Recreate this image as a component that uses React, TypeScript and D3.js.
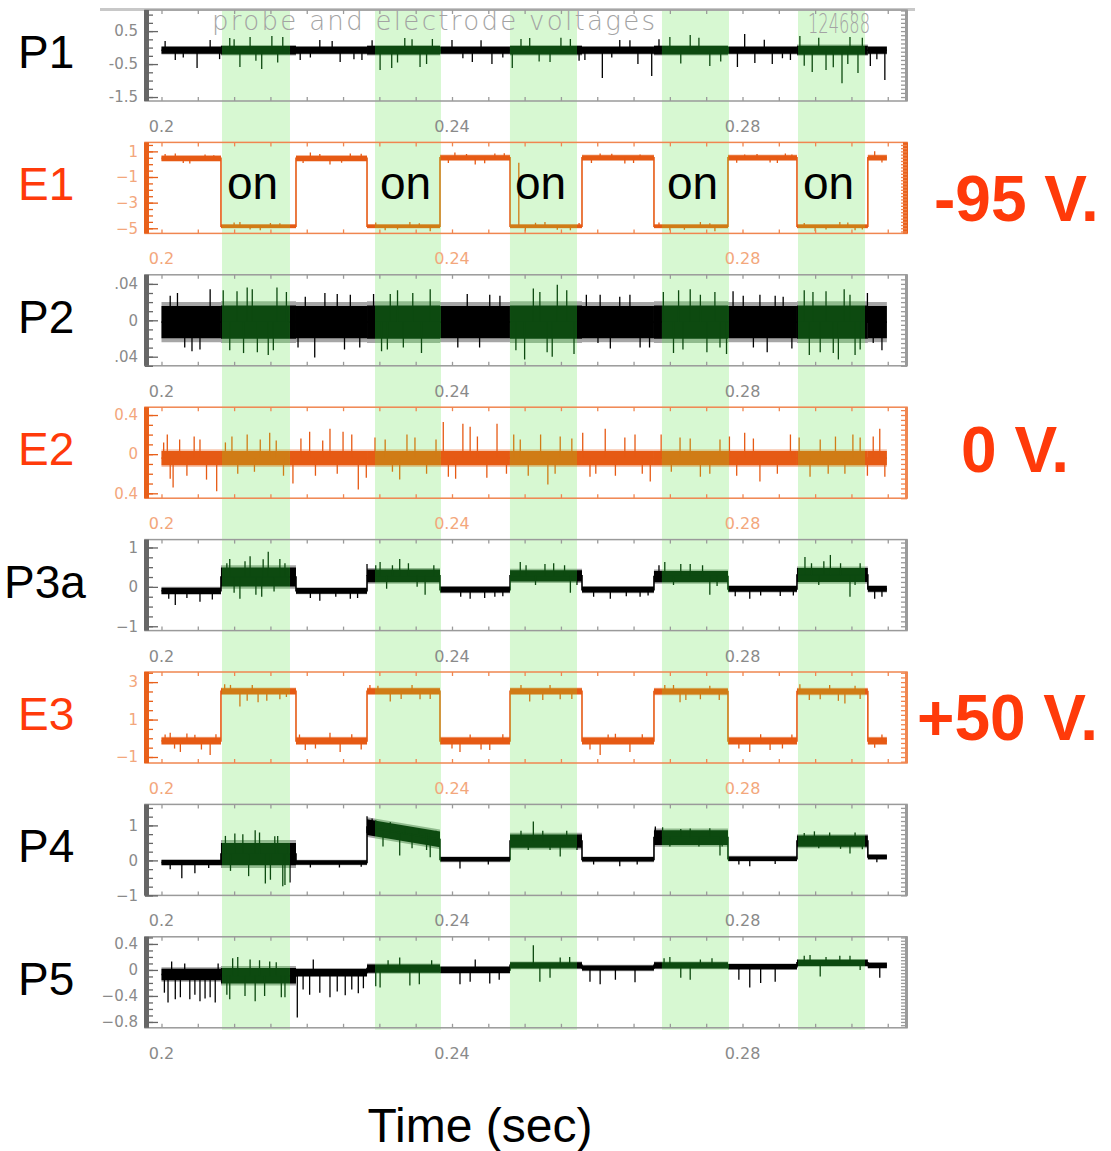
import React, { useEffect, useRef } from 'react';
import * as d3 from 'd3';

// time axis
const xDomain = [0.19773, 0.30265];
const xTicks = [0.2, 0.24, 0.28];
const xTickLabels = ['0.2', '0.24', '0.28'];

// switching edges of the signals (off, on, off, on, ...)
const sigEdges = [0.2, 0.20819, 0.21852, 0.2283, 0.23835, 0.24799, 0.2579, 0.26781, 0.278, 0.2875, 0.29726, 0.29988];
// green "on" windows
const onStart = [0.20833, 0.2294, 0.24798, 0.26891, 0.28764];
const onEnd = [0.21769, 0.23848, 0.25721, 0.27814, 0.29687];

// P1
const p1Domain = [-1.62, 1.14];
const p1Ticks = [0.5, -0.5, -1.5];
const p1TickLabels = ['0.5', '-0.5', '-1.5'];
const p1Level = [-0.08, -0.08, -0.08, -0.08, -0.08, -0.08, -0.08, -0.08, -0.08, -0.08, -0.08];
const p1Spread = [0.13, 0.16, 0.13, 0.16, 0.13, 0.16, 0.13, 0.16, 0.13, 0.17, 0.13];
const p1Spikes = [
  [0.2019, -0.38], [0.2049, -0.62], [0.2067, 0.23], [0.2094, 0.29], [0.2108, -0.59], [0.2122, 0.32],
  [0.2138, -0.65], [0.2152, 0.35], [0.2167, 0.32], [0.2191, -0.38], [0.2218, 0.23], [0.2246, -0.44],
  [0.2276, -0.38], [0.2301, -0.68], [0.2317, -0.62], [0.2335, 0.29], [0.2356, -0.59], [0.2373, 0.26],
  [0.24, 0.23], [0.2428, -0.44], [0.2455, -0.5], [0.2483, -0.62], [0.2507, 0.29], [0.2535, -0.44],
  [0.2563, 0.26], [0.2583, -0.38], [0.2607, -0.92], [0.2631, 0.23], [0.2656, -0.5], [0.2675, -0.86],
  [0.27, 0.32], [0.2728, 0.38], [0.2755, -0.56], [0.2793, -0.59], [0.2803, 0.41], [0.2817, -0.47],
  [0.2841, -0.5], [0.2866, -0.38], [0.2879, 0.35], [0.2896, -0.74], [0.2915, -0.68], [0.2937, -1.08],
  [0.2948, 0.32], [0.2959, -0.77], [0.2976, -0.56], [0.2996, -0.98],
  [0.2005, 0.2], [0.203, -0.3], [0.208, -0.35], [0.21, 0.25], [0.213, -0.4], [0.216, -0.45],
  [0.2205, -0.3], [0.2235, 0.2], [0.2265, -0.35], [0.229, 0.22], [0.2325, -0.45], [0.2345, 0.25],
  [0.2365, -0.5], [0.2415, -0.32], [0.244, 0.22], [0.247, -0.3], [0.2495, 0.26], [0.252, -0.42],
  [0.255, 0.3], [0.2575, -0.4], [0.262, -0.3], [0.2645, 0.22], [0.2685, 0.25], [0.2715, -0.48],
  [0.274, 0.3], [0.277, -0.42], [0.283, 0.24], [0.2855, -0.32], [0.2885, -0.55], [0.2905, 0.3],
  [0.2925, -0.6], [0.2945, -0.5], [0.2965, 0.3], [0.2985, -0.35],
];

// E1
const e1Domain = [-5.4, 1.7];
const e1Ticks = [1, -1, -3, -5];
const e1TickLabels = ['1', '\u22121', '\u22123', '\u22125'];
const e1Level = [0.45, -4.84, 0.45, -4.84, 0.5, -4.84, 0.5, -4.84, 0.5, -4.84, 0.5];
const e1Spread = [0.25, 0.18, 0.25, 0.18, 0.25, 0.18, 0.25, 0.18, 0.25, 0.18, 0.25];
const e1Spikes = [
  [0.2019, 0.84], [0.2039, 0.05], [0.206, 0.76], [0.2108, -4.52], [0.2136, -5.16], [0.2163, -4.6],
  [0.2205, 0.92], [0.2232, -0.03], [0.226, 0.84], [0.2308, -5.16], [0.2342, -4.52], [0.237, -5.24],
  [0.2404, 0.92], [0.2432, -0.03], [0.2459, 0.84], [0.2501, -5.24], [0.2528, -4.52], [0.2563, -5.16],
  [0.2604, 0.84], [0.2638, 0.05], [0.2659, 0.76], [0.27, -5.16], [0.2742, -4.52], [0.2762, -5.24],
  [0.2803, 0.76], [0.2838, 0.13], [0.2859, 0.84], [0.29, -5.24], [0.2934, -4.52], [0.2955, -5.16],
  [0.2982, 1.0], [0.2992, 0.13],
  [0.2005, 0.8], [0.203, 0.1], [0.2072, 0.7], [0.21, -4.55], [0.2122, -5.1], [0.215, -4.58],
  [0.2195, 0.1], [0.2218, 0.8], [0.2248, 0.12], [0.2275, 0.82], [0.2295, -4.55], [0.2325, -5.1],
  [0.2355, -4.6], [0.2395, 0.1], [0.242, 0.8], [0.2445, 0.08], [0.2472, 0.85], [0.2492, 0.12],
  [0.2515, -4.56], [0.2545, -5.12], [0.2575, -4.58], [0.2592, 0.1], [0.262, 0.82], [0.265, 0.1],
  [0.2685, -4.55], [0.272, -5.12], [0.2755, -4.6], [0.2792, 0.12], [0.282, 0.8], [0.2848, 0.1],
  [0.2868, 0.75], [0.2885, -4.58], [0.2915, -5.1], [0.2945, -4.55], [0.2965, -5.1],
];

// P2
const p2Domain = [-0.05, 0.05];
const p2Ticks = [0.04, 0, -0.04];
const p2TickLabels = ['.04', '0', '.04'];
const p2Level = [-0.002, -0.002, -0.002, -0.002, -0.002, -0.002, -0.002, -0.002, -0.002, -0.002, -0.002];
const p2Spread = [0.022, 0.023, 0.022, 0.023, 0.022, 0.023, 0.022, 0.023, 0.022, 0.023, 0.022];
const p2Spikes = [
  [0.2012, 0.027], [0.2032, -0.03], [0.2053, -0.032], [0.2067, 0.034], [0.2094, -0.033], [0.2104, 0.032],
  [0.2118, 0.036], [0.2132, -0.035], [0.2154, -0.033], [0.2159, 0.036], [0.2198, 0.026], [0.2211, -0.041],
  [0.2242, 0.029], [0.226, 0.028], [0.2273, -0.03], [0.2311, -0.032], [0.2315, 0.029], [0.2333, -0.03],
  [0.2346, 0.03], [0.2421, 0.029], [0.2438, -0.03], [0.2466, 0.027], [0.25, -0.043], [0.2521, 0.031],
  [0.2531, -0.035], [0.2545, 0.039], [0.2601, -0.025], [0.2604, 0.028], [0.2631, 0.026], [0.2659, -0.03],
  [0.2691, 0.031], [0.2718, -0.032], [0.2728, 0.034], [0.2742, 0.028], [0.2751, -0.035], [0.2769, -0.03],
  [0.2787, 0.032], [0.2801, 0.027], [0.2824, 0.028], [0.2834, -0.035], [0.2856, 0.026], [0.2897, 0.031],
  [0.2907, -0.035], [0.2932, -0.043], [0.2948, 0.028], [0.2962, -0.032], [0.298, -0.025],
  [0.2022, 0.03], [0.2042, -0.034], [0.2085, 0.033], [0.2113, -0.036], [0.2125, 0.034], [0.2147, -0.038],
  [0.2172, 0.031], [0.2188, -0.03], [0.2225, 0.03], [0.2252, -0.032], [0.2292, 0.029], [0.2303, -0.034],
  [0.2325, 0.033], [0.2358, -0.036], [0.237, 0.034], [0.2408, -0.03], [0.2452, 0.028], [0.2488, -0.033],
  [0.2512, 0.035], [0.2538, -0.04], [0.2558, 0.033], [0.2568, -0.037], [0.2585, 0.028], [0.2618, -0.031],
  [0.2645, 0.028], [0.2672, -0.03], [0.2705, -0.036], [0.2712, 0.033], [0.2762, 0.031], [0.2778, -0.037],
  [0.2815, -0.03], [0.2845, 0.027], [0.2868, -0.031], [0.2885, 0.033], [0.2892, -0.038], [0.2915, 0.032],
  [0.2925, -0.036], [0.294, 0.034], [0.2955, -0.038], [0.2972, 0.03], [0.2992, -0.033],
];

// E2
const e2Domain = [-0.45, 0.48];
const e2Ticks = [0.4, 0, -0.4];
const e2TickLabels = ['0.4', '0', '0.4'];
const e2Level = [-0.04, -0.04, -0.04, -0.04, -0.04, -0.04, -0.04, -0.04, -0.04, -0.04, -0.04];
const e2Spread = [0.09, 0.09, 0.09, 0.09, 0.09, 0.09, 0.09, 0.09, 0.09, 0.09, 0.09];
const e2Spikes = [
  [0.2008, 0.2], [0.2016, -0.34], [0.2053, 0.15], [0.2076, -0.38], [0.2097, 0.18], [0.2136, 0.15],
  [0.2149, 0.22], [0.2181, -0.3], [0.2204, 0.23], [0.2232, 0.26], [0.225, 0.23], [0.2271, -0.36],
  [0.2294, 0.17], [0.2328, -0.26], [0.2349, 0.17], [0.2388, 0.33], [0.2395, -0.23], [0.2415, 0.31],
  [0.2425, 0.28], [0.2462, 0.31], [0.2494, 0.15], [0.2532, -0.31], [0.2549, 0.18], [0.259, -0.23],
  [0.2611, 0.26], [0.2638, 0.17], [0.2673, -0.28], [0.2714, 0.17], [0.2742, -0.23], [0.2769, 0.15],
  [0.2803, 0.22], [0.2824, -0.28], [0.2866, 0.2], [0.2893, -0.23], [0.2907, 0.15], [0.2941, -0.2],
  [0.2962, 0.17], [0.2989, 0.26], [0.2996, -0.23],
  [0.2003, 0.12], [0.2012, -0.25], [0.2025, 0.15], [0.2035, -0.22], [0.2045, 0.18], [0.2062, -0.26],
  [0.2088, 0.12], [0.2105, -0.2], [0.2118, 0.2], [0.2128, -0.18], [0.2158, 0.14], [0.2168, -0.22],
  [0.2192, 0.16], [0.2212, -0.22], [0.2222, 0.14], [0.2242, -0.2], [0.2262, 0.2], [0.2282, -0.24],
  [0.2308, 0.15], [0.2318, -0.18], [0.2338, 0.2], [0.2365, -0.2], [0.2378, 0.15], [0.2405, -0.25],
  [0.2435, 0.18], [0.2448, -0.24], [0.2475, -0.2], [0.2485, 0.2], [0.2505, -0.22], [0.2522, 0.2],
  [0.2542, -0.2], [0.2565, 0.16], [0.258, 0.22], [0.2598, -0.2], [0.2625, -0.22], [0.2652, 0.2],
  [0.2662, -0.2], [0.2688, 0.2], [0.2702, -0.18], [0.2728, 0.16], [0.2755, -0.2], [0.2782, 0.18],
  [0.2792, -0.22], [0.2815, 0.16], [0.2848, -0.2], [0.2878, 0.17], [0.2918, -0.2], [0.2928, 0.18],
  [0.2952, 0.2], [0.2972, -0.22], [0.298, 0.18],
];

// P3a
const p3Domain = [-1.11, 1.2];
const p3Ticks = [1, 0, -1];
const p3TickLabels = ['1', '0', '\u22121'];
const p3Level = [-0.1, 0.25, -0.1, 0.28, -0.07, 0.28, -0.07, 0.26, -0.05, 0.3, -0.05];
const p3Spread = [0.1, 0.3, 0.09, 0.2, 0.09, 0.18, 0.09, 0.18, 0.09, 0.22, 0.09];
const p3Spikes = [
  [0.2019, -0.46], [0.2053, -0.38], [0.2094, 0.71], [0.2108, -0.3], [0.2122, 0.78], [0.2138, -0.25],
  [0.2147, 0.89], [0.2163, 0.71], [0.2218, -0.35], [0.226, -0.3], [0.2283, 0.58], [0.2301, 0.63],
  [0.2328, 0.71], [0.2363, -0.2], [0.2425, -0.3], [0.2459, -0.25], [0.2494, 0.63], [0.2528, 0.58],
  [0.2563, -0.15], [0.2618, -0.3], [0.2659, -0.25], [0.2693, 0.63], [0.2728, 0.58], [0.2755, -0.2],
  [0.281, -0.3], [0.2852, -0.23], [0.2886, 0.76], [0.2921, 0.81], [0.2948, -0.25], [0.2982, -0.3],
  [0.201, -0.3], [0.2035, -0.28], [0.207, -0.32], [0.209, 0.6], [0.21, -0.15], [0.2115, 0.65],
  [0.213, -0.2], [0.214, 0.7], [0.2155, -0.12], [0.217, 0.6], [0.2205, -0.28], [0.224, -0.25],
  [0.227, -0.28], [0.2295, 0.55], [0.231, -0.05], [0.2318, 0.55], [0.234, 0.6], [0.2352, 0.0],
  [0.2375, 0.55], [0.2412, -0.25], [0.2445, -0.28], [0.247, -0.24], [0.2502, 0.55], [0.2515, 0.05],
  [0.254, 0.6], [0.2555, 0.55], [0.2572, 0.05], [0.2595, -0.25], [0.264, -0.24], [0.267, -0.22],
  [0.2685, 0.55], [0.2705, 0.05], [0.2715, 0.58], [0.2745, 0.55], [0.2765, 0.02], [0.279, -0.24],
  [0.2825, -0.22], [0.287, -0.22], [0.2895, 0.6], [0.2905, 0.05], [0.2912, 0.65], [0.2935, 0.6],
  [0.2955, 0.05], [0.2962, 0.6], [0.2992, -0.25],
];

// E3
const e3Domain = [-1.32, 3.54];
const e3Ticks = [3, 1, -1];
const e3TickLabels = ['3', '1', '\u22121'];
const e3Level = [-0.14, 2.51, -0.14, 2.51, -0.14, 2.51, -0.14, 2.5, -0.14, 2.5, -0.14];
const e3Spread = [0.22, 0.2, 0.22, 0.2, 0.22, 0.2, 0.22, 0.2, 0.22, 0.2, 0.22];
const e3Spikes = [
  [0.2012, 0.3], [0.2026, -0.73], [0.2046, 0.19], [0.2067, -0.89], [0.2087, 2.89], [0.2108, 1.7],
  [0.2133, 1.92], [0.2163, 2.08], [0.2198, -0.62], [0.2232, 0.3], [0.2246, -0.73], [0.2287, 2.84],
  [0.2315, 1.97], [0.2356, 2.08], [0.2411, -0.73], [0.2452, -0.62], [0.2507, 1.97], [0.2549, 2.08],
  [0.2604, -0.89], [0.2625, 0.24], [0.2645, -0.73], [0.2693, 2.84], [0.2714, 1.92], [0.2742, 2.08],
  [0.281, -0.73], [0.2838, -0.62], [0.2879, 2.89], [0.2907, 2.08], [0.2941, 1.86], [0.2982, -0.51],
  [0.2005, 0.2], [0.2018, -0.55], [0.2035, 0.25], [0.2055, -0.6], [0.2075, 0.22], [0.2095, 2.85],
  [0.2118, 2.0], [0.2125, 2.85], [0.2145, 2.0], [0.2172, 2.2], [0.219, 0.2], [0.2212, -0.55],
  [0.2262, 0.22], [0.2275, -0.6], [0.2298, 2.8], [0.233, 2.1], [0.2345, 2.85], [0.237, 2.1],
  [0.24, -0.55], [0.2425, 0.2], [0.244, -0.6], [0.247, 0.22], [0.2495, 2.85], [0.2525, 2.05],
  [0.2535, 2.85], [0.2565, 2.1], [0.259, -0.6], [0.2615, 0.2], [0.2662, 0.22], [0.2705, 2.85],
  [0.2722, 2.05], [0.2755, 2.8], [0.2768, 2.05], [0.2795, -0.55], [0.2825, 0.22], [0.2855, -0.55],
  [0.2868, 0.2], [0.2892, 2.05], [0.292, 2.85], [0.2932, 2.0], [0.2955, 2.8], [0.2962, 2.1],
  [0.2992, 0.2],
];

// P4
const p4Domain = [-1.0, 1.6];
const p4Ticks = [1, 0, -1];
const p4TickLabels = ['1', '0', '\u22121'];
const p4Level = [-0.06, 0.18, -0.06, [0.95, 0.6], 0.03, 0.55, 0.03, 0.65, 0.05, 0.55, 0.1];
const p4Spread = [0.09, 0.4, 0.08, 0.28, 0.08, 0.24, 0.08, 0.26, 0.08, 0.2, 0.08];
const p4Spikes = [
  [0.2028, -0.51], [0.2046, -0.37], [0.2101, 0.77], [0.2129, 0.86], [0.2143, -0.66], [0.2156, 0.69],
  [0.2167, -0.74], [0.2177, -0.63], [0.2283, 1.26], [0.229, 1.2], [0.2328, 0.14], [0.237, 0.09],
  [0.2411, -0.23], [0.2512, 1.11], [0.2549, 0.11], [0.2631, -0.17], [0.268, 0.97], [0.2728, 0.91],
  [0.2769, 0.14], [0.281, -0.17], [0.2899, 0.83], [0.2948, 0.2],
  [0.2088, 0.7], [0.2095, -0.3], [0.2112, 0.75], [0.212, -0.45], [0.2135, 0.8], [0.215, -0.55],
  [0.216, 0.7], [0.217, -0.7], [0.2175, 0.5], [0.2295, 1.15], [0.2305, 0.4], [0.2315, 1.1],
  [0.2335, 0.95], [0.2345, 0.35], [0.2355, 0.9], [0.2365, 0.3], [0.2378, 0.85], [0.2495, 0.85],
  [0.2505, 0.3], [0.2525, 0.85], [0.2535, 0.3], [0.2558, 0.85], [0.2572, 0.3], [0.269, 0.95],
  [0.27, 0.4], [0.2715, 0.9], [0.274, 0.4], [0.2755, 0.92], [0.2772, 0.4], [0.2885, 0.78],
  [0.2905, 0.35], [0.292, 0.8], [0.2935, 0.33], [0.2955, 0.8], [0.2965, 0.32], [0.2012, -0.25],
  [0.2065, -0.22], [0.2205, -0.2], [0.2245, -0.2], [0.2275, -0.18], [0.245, -0.12], [0.2595, -0.12],
  [0.2655, -0.12], [0.2795, -0.12], [0.2845, -0.1], [0.2985, -0.05],
];

// P5
const p5Domain = [-0.89, 0.51];
const p5Ticks = [0.4, 0, -0.4, -0.8];
const p5TickLabels = ['0.4', '0', '\u22120.4', '\u22120.8'];
const p5Level = [-0.07, -0.09, -0.04, 0.02, 0, 0.07, 0.03, 0.07, 0.05, 0.11, 0.07];
const p5Spread = [0.11, 0.15, 0.07, 0.08, 0.06, 0.06, 0.05, 0.06, 0.05, 0.06, 0.05];
const p5Spikes = [
  [0.2009, -0.5], [0.2014, 0.13], [0.2026, -0.42], [0.2039, -0.45], [0.2053, -0.48], [0.2067, -0.42],
  [0.2074, -0.5], [0.2094, -0.45], [0.2105, 0.2], [0.2122, 0.16], [0.2129, -0.48], [0.2149, 0.13],
  [0.217, -0.42], [0.2187, -0.73], [0.2204, -0.38], [0.2209, 0.16], [0.2232, -0.42], [0.2253, -0.39],
  [0.2271, -0.36], [0.2301, -0.27], [0.2328, 0.19], [0.2342, -0.24], [0.2411, -0.22], [0.2432, 0.16],
  [0.2452, -0.21], [0.2512, 0.38], [0.2521, -0.18], [0.2549, 0.19], [0.2604, -0.22], [0.2652, -0.19],
  [0.27, 0.2], [0.2728, -0.15], [0.2742, 0.16], [0.281, -0.27], [0.2845, -0.18], [0.2893, 0.23],
  [0.2907, -0.1], [0.2934, 0.22], [0.2989, -0.12],
  [0.209, -0.38], [0.2098, 0.18], [0.2115, -0.4], [0.2135, 0.15], [0.2142, -0.4], [0.2158, 0.12],
  [0.2165, -0.42], [0.2004, -0.35], [0.2019, -0.45], [0.2032, 0.1], [0.2046, -0.38], [0.206, -0.44],
  [0.2078, 0.1], [0.2195, -0.3], [0.2218, -0.35], [0.2242, -0.33], [0.2262, -0.3], [0.2278, -0.28],
  [0.2295, -0.25], [0.2312, 0.15], [0.2355, -0.22], [0.2372, 0.15], [0.2425, -0.18], [0.2465, -0.15],
  [0.2535, -0.12], [0.2562, 0.2], [0.259, -0.18], [0.2625, -0.15], [0.2692, 0.18], [0.2715, -0.12],
  [0.2758, 0.18], [0.2795, -0.15], [0.2825, -0.2], [0.2885, 0.22], [0.2915, 0.2], [0.2948, 0.22],
  [0.2962, 0.0],
];

const panels = [
  { name: 'P1', kind: 'P', domain: p1Domain, ticks: p1Ticks, labels: p1TickLabels, minor: 0.25, level: p1Level, spread: p1Spread, spikes: p1Spikes },
  { name: 'E1', kind: 'E', domain: e1Domain, ticks: e1Ticks, labels: e1TickLabels, minor: 0.5, level: e1Level, spread: e1Spread, spikes: e1Spikes },
  { name: 'P2', kind: 'P', domain: p2Domain, ticks: p2Ticks, labels: p2TickLabels, minor: 0.01, level: p2Level, spread: p2Spread, spikes: p2Spikes },
  { name: 'E2', kind: 'E', domain: e2Domain, ticks: e2Ticks, labels: e2TickLabels, minor: 0.1, level: e2Level, spread: e2Spread, spikes: e2Spikes },
  { name: 'P3a', kind: 'P', domain: p3Domain, ticks: p3Ticks, labels: p3TickLabels, minor: 0.25, level: p3Level, spread: p3Spread, spikes: p3Spikes },
  { name: 'E3', kind: 'E', domain: e3Domain, ticks: e3Ticks, labels: e3TickLabels, minor: 0.5, level: e3Level, spread: e3Spread, spikes: e3Spikes },
  { name: 'P4', kind: 'P', domain: p4Domain, ticks: p4Ticks, labels: p4TickLabels, minor: 0.25, level: p4Level, spread: p4Spread, spikes: p4Spikes },
  { name: 'P5', kind: 'P', domain: p5Domain, ticks: p5Ticks, labels: p5TickLabels, minor: 0.1, level: p5Level, spread: p5Spread, spikes: p5Spikes },
];

const voltLabels = [
  { text: '-95 V.', x: 934, y: 221 },
  { text: '0 V.', x: 961, y: 472 },
  { text: '+50 V.', x: 917, y: 740 },
];

const W = 1111;
const H = 1151;
const plotLeft = 145;
const plotRight = 907;
const firstTop = 10;
const step = 132.4;
const panelH = 91;

const bandColor = '#d7f8d2';
const pOff = '#000000';
const pOn = '#0d4a10';
const eOff = '#e65a14';
const eOn = '#d07c16';
const red = '#ff3a0a';

function drawTrace(g, x, y, p, color) {
  const segs = p.level.map((lv, i) => {
    const [a, b] = Array.isArray(lv) ? lv : [lv, lv];
    return { t0: sigEdges[i], t1: sigEdges[i + 1], a, b, s: p.spread[i] };
  });
  const area = (k) =>
    d3
      .area()
      .x((d) => x(d[0]))
      .y0((d) => y(d[1] - d[2] * k))
      .y1((d) => y(d[1] + d[2] * k));
  // fuzzy outer envelope, then the dense core
  [[1, 0.35], [0.8, 1]].forEach(([k, op]) => {
    g.append('g')
      .selectAll('path')
      .data(segs)
      .join('path')
      .attr('d', (s) => area(k)([[s.t0, s.a, s.s], [s.t1, s.b, s.s]]))
      .attr('fill', color)
      .attr('fill-opacity', op);
  });

  const line = d3
    .line()
    .x((d) => x(d[0]))
    .y((d) => y(d[1]));
  const pts = segs.flatMap((s) => [[s.t0, s.a], [s.t1, s.b]]);
  g.append('path').attr('d', line(pts)).attr('fill', 'none').attr('stroke', color).attr('stroke-width', 1.6);

  const base = (t) => {
    const s = segs.find((q) => t >= q.t0 && t < q.t1) || segs[segs.length - 1];
    return (s.a + s.b) / 2;
  };
  g.append('g')
    .selectAll('line')
    .data(p.spikes)
    .join('line')
    .attr('x1', (d) => x(d[0]))
    .attr('x2', (d) => x(d[0]))
    .attr('y1', (d) => y(base(d[0])))
    .attr('y2', (d) => y(d[1]))
    .attr('stroke', color)
    .attr('stroke-width', 1.3);
}

export default function App() {
  const svgRef = useRef(null);

  useEffect(() => {
    const svg = d3.select(svgRef.current);
    svg.selectAll('*').remove();

    const x = d3.scaleLinear().domain(xDomain).range([plotLeft, plotRight]);
    const bandTop = firstTop;
    const bandBottom = firstTop + 7 * step + panelH + 2;
    const windows = d3.zip(onStart, onEnd);
    const gaps = d3.zip([xDomain[0], ...onEnd], [...onStart, xDomain[1]]);

    const defs = svg.append('defs');
    [['onClip', windows], ['offClip', gaps]].forEach(([id, spans]) => {
      defs
        .append('clipPath')
        .attr('id', id)
        .selectAll('rect')
        .data(spans)
        .join('rect')
        .attr('x', (d) => x(d[0]))
        .attr('width', (d) => x(d[1]) - x(d[0]))
        .attr('y', 0)
        .attr('height', H);
    });

    // green "on" windows
    svg
      .append('g')
      .selectAll('rect')
      .data(windows)
      .join('rect')
      .attr('x', (d) => x(d[0]))
      .attr('width', (d) => x(d[1]) - x(d[0]))
      .attr('y', bandTop)
      .attr('height', bandBottom - bandTop)
      .attr('fill', bandColor);

    svg.append('line').attr('x1', 100).attr('x2', 915).attr('y1', 9.5).attr('y2', 9.5).attr('stroke', '#c8c8c8').attr('stroke-width', 3);

    panels.forEach((p, i) => {
      const y0 = firstTop + i * step;
      const y = d3.scaleLinear().domain(p.domain).range([y0 + panelH, y0]);
      const isE = p.kind === 'E';
      const frameColor = isE ? '#f08650' : '#9a9a9a';
      const axisColor = isE ? '#e8601a' : '#666666';
      const labelColor = isE ? '#f3a77c' : '#8a8a8a';
      const g = svg.append('g');

      drawTrace(g.append('g').attr('clip-path', 'url(#offClip)'), x, y, p, isE ? eOff : pOff);
      drawTrace(g.append('g').attr('clip-path', 'url(#onClip)'), x, y, p, isE ? eOn : pOn);

      g.append('rect')
        .attr('x', plotLeft)
        .attr('y', y0)
        .attr('width', plotRight - plotLeft)
        .attr('height', panelH)
        .attr('fill', 'none')
        .attr('stroke', frameColor)
        .attr('stroke-width', 1.5);
      g.append('rect').attr('x', plotLeft - 1).attr('y', y0).attr('width', 5).attr('height', panelH).attr('fill', axisColor);
      g.append('rect')
        .attr('x', plotRight - (i === 1 ? 4 : 2))
        .attr('y', y0)
        .attr('width', i === 1 ? 5 : 3)
        .attr('height', panelH)
        .attr('fill', i === 1 ? axisColor : frameColor);

      const [lo, hi] = p.domain;
      const minorL = d3.range(Math.ceil(lo / p.minor) * p.minor, hi, p.minor);
      const minorR = d3.range(Math.ceil(lo / (p.minor / 2)) * (p.minor / 2), hi, p.minor / 2);

      const styleAxis = (a, color) => {
        a.select('.domain').remove();
        a.selectAll('line').attr('stroke', color).attr('stroke-width', 1.3);
      };

      g.append('g')
        .attr('transform', `translate(${plotLeft},0)`)
        .call(d3.axisRight(y).tickValues(minorL).tickSize(8).tickFormat(() => ''))
        .call((a) => styleAxis(a, axisColor));
      g.append('g')
        .attr('transform', `translate(${plotRight},0)`)
        .call(d3.axisLeft(y).tickValues(minorR).tickSize(6).tickFormat(() => ''))
        .call((a) => styleAxis(a, frameColor));
      const ax = g
        .append('g')
        .attr('transform', `translate(${plotLeft},0)`)
        .call(
          d3
            .axisLeft(y)
            .tickValues(p.ticks)
            .tickSizeInner(-13)
            .tickSizeOuter(0)
            .tickPadding(7)
            .tickFormat((d, k) => p.labels[k])
        );
      styleAxis(ax, axisColor);
      ax.selectAll('text')
        .attr('fill', labelColor)
        .attr('font-family', 'DejaVu Sans, sans-serif')
        .attr('font-size', 15);

      const xMinor = d3.range(0.2, 0.3026, 0.005);
      g.append('g')
        .attr('transform', `translate(0,${y0 + panelH})`)
        .call(d3.axisTop(x).tickValues(xMinor).tickSize(4).tickFormat(() => ''))
        .call((a) => styleAxis(a, frameColor));
      g.append('g')
        .attr('transform', `translate(0,${y0})`)
        .call(d3.axisBottom(x).tickValues(xMinor).tickSize(4).tickFormat(() => ''))
        .call((a) => styleAxis(a, frameColor));

      g.selectAll('text.xl')
        .data(xTicks)
        .join('text')
        .attr('class', 'xl')
        .attr('x', (d) => x(d))
        .attr('y', y0 + panelH + 31)
        .attr('text-anchor', 'middle')
        .attr('fill', labelColor)
        .attr('font-family', 'DejaVu Sans, sans-serif')
        .attr('font-size', 16)
        .text((d, k) => xTickLabels[k]);

      g.append('text')
        .attr('x', p.name === 'P3a' ? 4 : 18)
        .attr('y', y0 + 58)
        .attr('fill', isE ? red : '#000')
        .attr('font-family', 'Liberation Sans, Arial, sans-serif')
        .attr('font-size', 46)
        .text(p.name);

      if (i === 1) {
        g.selectAll('text.on')
          .data(onStart)
          .join('text')
          .attr('class', 'on')
          .attr('x', (d) => x(d) + 5)
          .attr('y', y(-2.75))
          .attr('fill', '#000')
          .attr('font-family', 'Liberation Sans, Arial, sans-serif')
          .attr('font-size', 46)
          .text('on');
      }
    });

    svg.append('text')
      .attr('x', 212)
      .attr('y', 30)
      .attr('textLength', 443)
      .attr('fill', '#a3a3a3')
      .attr('font-family', 'DejaVu Sans, sans-serif')
      .attr('font-weight', 200)
      .attr('font-size', 26)
      .text('probe  and  electrode  voltages');
    svg.append('text')
      .attr('x', 808)
      .attr('y', 33)
      .attr('textLength', 62)
      .attr('lengthAdjust', 'spacingAndGlyphs')
      .attr('fill', '#a3a3a3')
      .attr('font-family', 'DejaVu Sans, sans-serif')
      .attr('font-weight', 200)
      .attr('font-size', 26)
      .text('124688');

    svg.selectAll('text.volt')
      .data(voltLabels)
      .join('text')
      .attr('class', 'volt')
      .attr('x', (d) => d.x)
      .attr('y', (d) => d.y)
      .attr('fill', red)
      .attr('font-family', 'Liberation Sans, Arial, sans-serif')
      .attr('font-weight', 'bold')
      .attr('font-size', 64)
      .text((d) => d.text);

    svg.append('text')
      .attr('x', 480)
      .attr('y', 1142)
      .attr('text-anchor', 'middle')
      .attr('fill', '#000')
      .attr('font-family', 'Liberation Sans, Arial, sans-serif')
      .attr('font-size', 48)
      .text('Time (sec)');
  }, []);

  return (
    <svg
      ref={svgRef}
      width={W}
      height={H}
      style={{ position: 'absolute', left: 0, top: 0, background: '#fff' }}
    />
  );
}
